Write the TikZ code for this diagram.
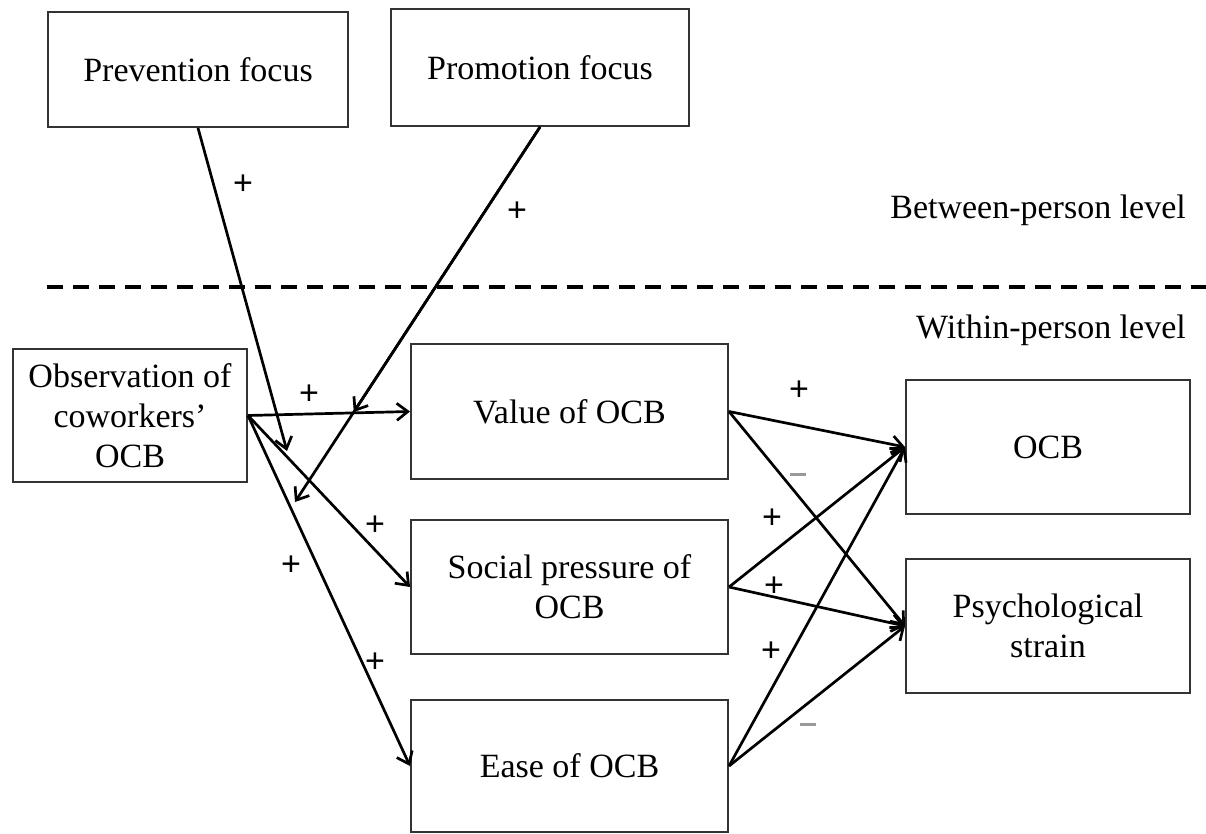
\documentclass[tikz,border=0pt]{standalone}
\usepackage{fontspec}
\setmainfont{Liberation Serif}
\newfontfamily\plusfont{Liberation Sans}
\usetikzlibrary{arrows.meta,calc}
\tikzset{
  box/.style={draw=black!80, line width=2pt, inner sep=0pt, align=center,
    font=\fontsize{34}{40}\selectfont},
  arr/.style={line width=2.7pt, -{Straight Barb[length=11pt,width=17pt]}},
  pl/.style={font=\plusfont\fontsize{34}{34}\selectfont, inner sep=0pt},
  mn/.style={draw=none, fill=black!40, minimum width=16pt, minimum height=3pt, inner sep=0pt},
  lvl/.style={anchor=east, inner sep=0pt, font=\fontsize{34}{40}\selectfont}
}
\begin{document}
\begin{tikzpicture}[x=1pt,y=-1pt]
\useasboundingbox (0,0) rectangle (1206,834);
% boxes
\node[box, minimum width=300pt, minimum height=115pt] (prev) at (198,69.5) {Prevention focus};
\node[box, minimum width=298pt, minimum height=117pt] (prom) at (540,67.5) {Promotion focus};
\node[box, minimum width=234pt, minimum height=133pt] (obs) at (130,415.5) {Observation of\\coworkers’\\OCB};
\node[box, minimum width=317pt, minimum height=135pt] (val) at (569.5,411.5) {Value of OCB};
\node[box, minimum width=317pt, minimum height=134pt] (soc) at (569.5,587) {Social pressure of\\OCB};
\node[box, minimum width=317pt, minimum height=132pt] (ease) at (569.5,766) {Ease of OCB};
\node[box, minimum width=284pt, minimum height=134pt] (ocb) at (1048,447) {OCB};
\node[box, minimum width=284pt, minimum height=134pt] (psy) at (1048,626) {Psychological\\strain};
% level separator
\coordinate (dl) at (47,287);
\coordinate (dr) at (1206,287);
\draw[line width=4pt, dash pattern=on 16pt off 10pt] (dl) -- (dr);
\node[lvl] (between) at (1186,210) {Between-person level};
\node[lvl] (within) at (1186,330) {Within-person level};
% moderator targets
\coordinate (pm1) at (287,451);
\coordinate (pm3) at (295,502);
\coordinate (pm2) at ($(prom.south)!0.76!(pm3)$);
% arrows
\draw[arr] (prev.south) -- (pm1);
\draw[arr] (prom.south) -- (pm2);
\draw[arr] (prom.south) -- (pm3);
\draw[arr] (obs.east) -- (val.west);
\draw[arr] (obs.east) -- (soc.west);
\draw[arr] (obs.east) -- (ease.west);
\draw[arr] (val.east) -- (ocb.west);
\draw[arr] (val.east) -- (psy.west);
\draw[arr] (soc.east) -- (ocb.west);
\draw[arr] (soc.east) -- (psy.west);
\draw[arr] (ease.east) -- (ocb.west);
\draw[arr] (ease.east) -- (psy.west);
% signs
\node[pl] (s1) at (243,185) {+};
\node[pl] (s2) at (517,212) {+};
\node[pl] (s3) at (309,395) {+};
\node[pl] (s4) at (375,526) {+};
\node[pl] (s5) at (291,566) {+};
\node[pl] (s6) at (375,663) {+};
\node[pl] (s7) at (799,391) {+};
\node[pl] (s8) at (772,519) {+};
\node[pl] (s9) at (774,587) {+};
\node[pl] (s10) at (771,652) {+};
\node[mn] (m1) at (798,474) {};
\node[mn] (m2) at (808,724) {};
\end{tikzpicture}
\end{document}
